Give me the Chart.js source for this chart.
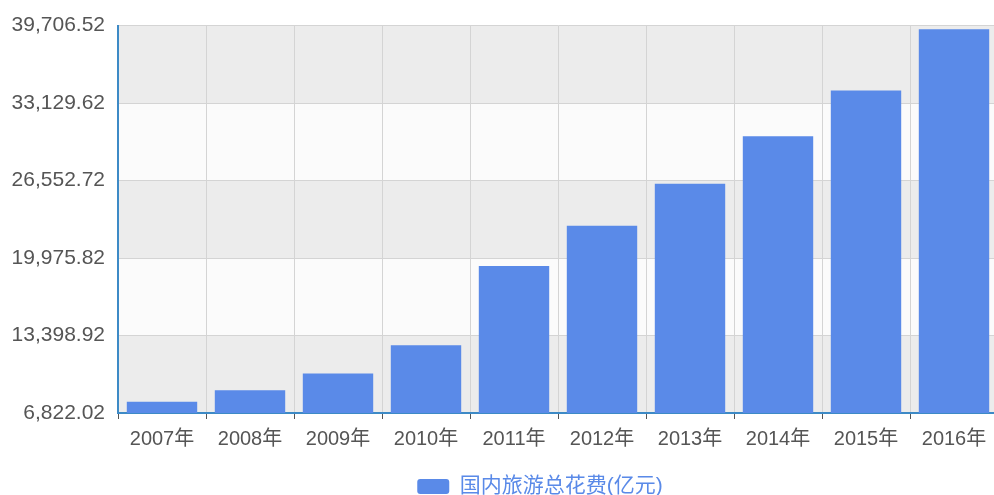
<!DOCTYPE html>
<html>
<head>
<meta charset="utf-8">
<script src="https://cdn.jsdelivr.net/npm/chart.js@4"></script>
<style>
  html, body { margin: 0; padding: 0; background: #fff; }
  #wrap { width: 994px; height: 495px; overflow: hidden; }
</style>
</head>
<body>
<div id="wrap"><canvas id="bar-chart" width="1080" height="495"></canvas></div>
<script>
// data
const years = ["2007年", "2008年", "2009年", "2010年", "2011年", "2012年", "2013年", "2014年", "2015年", "2016年"];
const spend = [7770.6, 8749.3, 10183.7, 12579.8, 19305.4, 22706.2, 26276.1, 30311.9, 34195.1, 39390.0];
const yTicks = [6822.02, 13398.92, 19975.82, 26552.72, 33129.62, 39706.52];
const seriesName = "国内旅游总花费(亿元)";

const FONT = "'Liberation Sans', 'Noto Sans CJK SC', sans-serif";

// striped background between y ticks
const bands = {
  id: "bands",
  beforeDraw(chart) {
    const {ctx, chartArea: {left, width}, scales: {y}} = chart;
    ctx.save();
    for (let i = 0; i < yTicks.length - 1; i++) {
      const top = y.getPixelForValue(yTicks[i + 1]);
      const bottom = y.getPixelForValue(yTicks[i]);
      ctx.fillStyle = i % 2 === 0 ? "#ececec" : "#fbfbfb";
      ctx.fillRect(left, top, width, bottom - top);
    }
    ctx.restore();
  }
};

new Chart(document.getElementById("bar-chart"), {
  type: "bar",
  data: {
    labels: years,
    datasets: [{
      label: seriesName,
      data: spend,
      backgroundColor: "#5a8ae8",
      borderWidth: 0,
      barPercentage: 0.8,
      categoryPercentage: 1,
    }, ],
  },
  options: {
    responsive: false,
    animation: false,
    layout: {
      padding: { top: 24, left: 0, right: 0, bottom: -12 },
    },
    plugins: {
      legend: {
        position: "bottom",
        labels: {
          boxWidth: 32,
          boxHeight: 15,
          useBorderRadius: true,
          borderRadius: 3,
          padding: 4,
          color: "#5a8ae8",
          font: { family: FONT, size: 21 },
        },
      },
      tooltip: { enabled: false },
    },
    scales: {
      x: {
        offset: true,
        border: { display: true, color: "#3d8ac6", width: 2 },
        grid: {
          offset: true,
          color: "#d4d4d4",
          tickColor: "#555",
          tickLength: 6,
        },
        ticks: {
          color: "#555",
          padding: 8,
          maxRotation: 0,
          autoSkip: false,
          font: { family: FONT, size: 20 },
        },
        afterFit: (s) => { s.height = 59; },
      },
      y: {
        min: yTicks[0],
        max: yTicks[yTicks.length - 1],
        afterBuildTicks: (s) => { s.ticks = yTicks.map((v) => ({ value: v })); },
        border: { display: true, color: "#3d8ac6", width: 2 },
        grid: {
          color: "#d4d4d4",
          drawTicks: false,
        },
        ticks: {
          color: "#555",
          padding: 13,
          font: { family: FONT, size: 21 },
          callback: (v) => v.toLocaleString("en-US", { minimumFractionDigits: 2, maximumFractionDigits: 2 }),
        },
        afterFit: (s) => { s.width = 118; },
      },
      // empty axis on the right, only to push the plot edge past the window
      y2: {
        position: "right",
        display: true,
        border: { display: false },
        grid: { display: false, drawTicks: false },
        ticks: { display: false },
        afterFit: (s) => { s.width = 82; },
      },
    },
  },
  plugins: [bands],
});
</script>
</body>
</html>
